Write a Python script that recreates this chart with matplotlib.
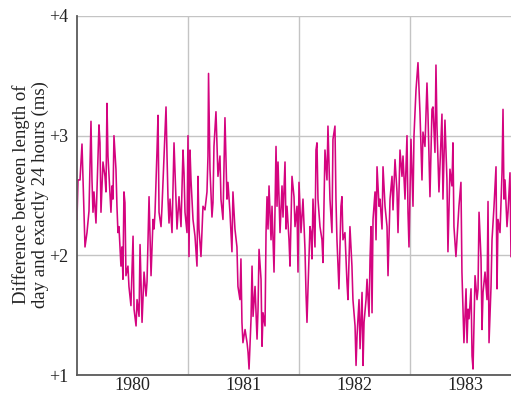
import matplotlib
matplotlib.use("Agg")
import matplotlib.pyplot as plt
from matplotlib.ticker import FixedLocator, NullFormatter, FixedFormatter

plt.rcParams["font.family"] = ["Liberation Serif", "DejaVu Serif"]

# ---------------------------------------------------------------------------
# Length-of-day excess over 24 h (ms)
# ---------------------------------------------------------------------------
years = [
    1980.000, 1980.009, 1980.027, 1980.045, 1980.072, 1980.090, 1980.108, 1980.126,
    1980.135, 1980.144, 1980.153, 1980.171, 1980.198, 1980.207, 1980.216, 1980.234,
    1980.252, 1980.261, 1980.270, 1980.279, 1980.306, 1980.315, 1980.324, 1980.333,
    1980.351, 1980.360, 1980.369, 1980.378, 1980.396, 1980.405, 1980.414, 1980.423,
    1980.432, 1980.441, 1980.459, 1980.468, 1980.486, 1980.505, 1980.514, 1980.532,
    1980.541, 1980.559, 1980.568, 1980.586, 1980.604, 1980.622, 1980.631, 1980.649,
    1980.667, 1980.685, 1980.694, 1980.703, 1980.721, 1980.730, 1980.739, 1980.757,
    1980.766, 1980.784, 1980.802, 1980.811, 1980.820, 1980.829, 1980.838, 1980.856,
    1980.874, 1980.892, 1980.901, 1980.919, 1980.937, 1980.955, 1980.964, 1980.973,
    1980.991,
    1981.000, 1981.009, 1981.018, 1981.027, 1981.045, 1981.063, 1981.081, 1981.090,
    1981.099, 1981.117, 1981.135, 1981.153, 1981.171, 1981.180, 1981.185, 1981.198,
    1981.216, 1981.225, 1981.234, 1981.252, 1981.270, 1981.288, 1981.297, 1981.315,
    1981.333, 1981.351, 1981.360, 1981.378, 1981.396, 1981.405, 1981.423, 1981.441,
    1981.450, 1981.468, 1981.477, 1981.486, 1981.495, 1981.514, 1981.532, 1981.541,
    1981.550, 1981.568, 1981.577, 1981.586, 1981.604, 1981.622, 1981.631, 1981.640,
    1981.658, 1981.667, 1981.676, 1981.694, 1981.703, 1981.712, 1981.721, 1981.730,
    1981.748, 1981.757, 1981.775, 1981.793, 1981.802, 1981.811, 1981.829, 1981.847,
    1981.856, 1981.874, 1981.883, 1981.892, 1981.910, 1981.919, 1981.937, 1981.955,
    1981.964, 1981.982, 1981.991,
    1982.000, 1982.018, 1982.036, 1982.054, 1982.063, 1982.072, 1982.081, 1982.099,
    1982.108, 1982.117, 1982.126, 1982.144, 1982.153, 1982.162, 1982.171, 1982.189,
    1982.207, 1982.216, 1982.234, 1982.252, 1982.261, 1982.279, 1982.297, 1982.306,
    1982.324, 1982.333, 1982.342, 1982.360, 1982.378, 1982.387, 1982.396, 1982.414,
    1982.432, 1982.441, 1982.459, 1982.477, 1982.486, 1982.505, 1982.514, 1982.523,
    1982.541, 1982.550, 1982.568, 1982.577, 1982.586, 1982.604, 1982.613, 1982.631,
    1982.640, 1982.649, 1982.658, 1982.667, 1982.685, 1982.694, 1982.703, 1982.721,
    1982.730, 1982.748, 1982.757, 1982.775, 1982.793, 1982.802, 1982.820, 1982.838,
    1982.847, 1982.865, 1982.883, 1982.892, 1982.910, 1982.928, 1982.937, 1982.955,
    1982.973, 1982.982, 1982.991,
    1983.009, 1983.027, 1983.036, 1983.054, 1983.063, 1983.072, 1983.090, 1983.108,
    1983.117, 1983.135, 1983.153, 1983.162, 1983.180, 1983.198, 1983.207, 1983.225,
    1983.234, 1983.243, 1983.261, 1983.288, 1983.297, 1983.315, 1983.333, 1983.342,
    1983.360, 1983.378, 1983.387, 1983.396, 1983.414, 1983.423, 1983.441, 1983.459,
    1983.468, 1983.486, 1983.505, 1983.514, 1983.523, 1983.532, 1983.550, 1983.559,
    1983.568, 1983.586, 1983.604, 1983.613, 1983.622, 1983.640, 1983.649, 1983.658,
    1983.676, 1983.694, 1983.703, 1983.712, 1983.730, 1983.739, 1983.757, 1983.775,
    1983.784, 1983.793, 1983.811, 1983.829, 1983.838, 1983.847, 1983.856, 1983.874,
    1983.883, 1983.901, 1983.910,
]

lod_ms = [
    2.30, 2.63, 2.63, 2.93, 2.07, 2.19, 2.37, 3.12,
    2.63, 2.36, 2.53, 2.27, 3.09, 2.94, 2.36, 2.78,
    2.66, 2.53, 3.27, 2.83, 2.36, 2.58, 2.47, 3.00,
    2.72, 2.41, 2.19, 2.24, 1.91, 2.07, 1.80, 2.53,
    2.44, 1.83, 1.91, 1.74, 1.58, 2.16, 1.55, 1.41,
    1.63, 1.49, 2.09, 1.44, 1.86, 1.66, 1.78, 2.49,
    1.83, 2.30, 2.22, 2.36, 2.88, 3.17, 2.36, 2.24,
    2.41, 2.83, 3.24, 2.83, 2.47, 2.27, 2.47, 2.19,
    2.94, 2.47, 2.22, 2.49, 2.24, 2.88, 2.69, 2.36,
    2.19,
    3.00, 1.99, 2.88, 2.63, 2.30, 2.16, 1.91, 2.66,
    2.22, 1.99, 2.41, 2.38, 2.53, 2.83, 3.52, 2.72,
    2.32, 2.44, 2.91, 3.20, 2.66, 2.83, 2.47, 2.30,
    3.15, 2.47, 2.61, 2.36, 2.03, 2.53, 2.22, 2.07,
    1.74, 1.63, 1.97, 1.44, 1.27, 1.38, 1.27, 1.19,
    1.05, 1.47, 1.91, 1.49, 1.74, 1.30, 1.55, 2.05,
    1.80, 1.24, 1.52, 1.41, 2.19, 2.49, 2.22, 2.58,
    2.13, 2.41, 1.86, 2.91, 2.41, 2.78, 2.19, 2.58,
    2.32, 2.78, 2.22, 2.41, 2.13, 1.91, 2.66, 2.49,
    2.24, 2.41, 1.86,
    2.61, 2.19, 2.47, 2.05, 1.69, 1.44, 1.72, 2.24,
    2.19, 1.97, 2.47, 2.07, 2.88, 2.94, 2.47, 2.24,
    2.13, 1.94, 2.88, 2.63, 3.08, 2.47, 2.19, 2.97,
    3.08, 2.47, 2.13, 1.72, 2.41, 2.49, 2.13, 2.19,
    1.78, 1.63, 2.24, 1.91, 1.63, 1.41, 1.08, 1.33,
    1.63, 1.22, 1.69, 1.08, 1.44, 1.63, 1.80, 1.49,
    1.97, 2.24, 1.52, 2.30, 2.53, 2.13, 2.74, 2.41,
    2.47, 2.22, 2.74, 2.41, 2.24, 1.83, 2.47, 2.66,
    2.38, 2.80, 2.53, 2.19, 2.88, 2.66, 2.83, 2.47,
    3.00, 2.36, 2.07,
    2.97, 2.41, 3.00, 3.38, 3.49, 3.61, 3.19, 2.63,
    3.03, 2.91, 3.44, 3.18, 2.49, 3.22, 3.24, 2.86,
    3.59, 3.08, 2.53, 3.18, 2.47, 3.13, 2.63, 2.03,
    2.72, 2.58, 2.94, 2.24, 1.99, 2.13, 2.41, 2.61,
    1.86, 1.27, 1.72, 1.27, 1.55, 1.47, 1.72, 1.16,
    1.05, 1.83, 1.63, 1.72, 2.36, 1.97, 1.38, 1.69,
    1.86, 1.63, 2.45, 1.27, 1.74, 2.13, 2.41, 2.74,
    1.72, 2.30, 2.19, 2.69, 3.22, 2.47, 2.63, 2.24,
    2.36, 2.69, 1.99,
]

year_bounds = [1981, 1982, 1983]
year_labels = ["1980", "1981", "1982", "1983"]
year_mids = [1980.5, 1981.5, 1982.5, 1983.5]
y_ticks = [1, 2, 3, 4]
y_tick_labels = ["+1", "+2", "+3", "+4"]

LINE_COLOR = "#d4047f"
GRID_COLOR = "#c4c4c4"
SPINE_COLOR = "#5a5a5a"

fig = plt.figure(figsize=(5.11, 3.94), dpi=100)
ax = fig.add_axes([77 / 511, 19 / 394, 434 / 511, 359 / 394])

ax.plot(years, lod_ms, color=LINE_COLOR, linewidth=1.15, zorder=3)

ax.set_xlim(1980.0, 1983.91)
ax.set_ylim(1, 4)

# year boundaries carry the grid, labels sit at mid-year
ax.xaxis.set_major_locator(FixedLocator(year_bounds))
ax.xaxis.set_major_formatter(NullFormatter())
ax.xaxis.set_minor_locator(FixedLocator(year_mids))
ax.xaxis.set_minor_formatter(FixedFormatter(year_labels))
ax.set_yticks(y_ticks)
ax.set_yticklabels(y_tick_labels)

ax.tick_params(axis="both", which="both", length=0, labelsize=13,
               colors="#222222")
ax.tick_params(axis="x", which="minor", pad=1.5)
ax.tick_params(axis="y", pad=6)

ax.grid(True, which="major", color=GRID_COLOR, linewidth=1.0)
ax.set_axisbelow(True)

for side in ["top", "right"]:
    ax.spines[side].set_visible(False)
for side in ["left", "bottom"]:
    ax.spines[side].set_color(SPINE_COLOR)
    ax.spines[side].set_linewidth(1.3)
    ax.spines[side].set_zorder(4)

fig.text(0.06, 0.507,
         "Difference between length of\nday and exactly 24 hours (ms)",
         rotation=90, ha="center", va="center", multialignment="center",
         fontsize=13.5, color="#222222", linespacing=1.15)

fig.savefig("out.png", dpi=100)
